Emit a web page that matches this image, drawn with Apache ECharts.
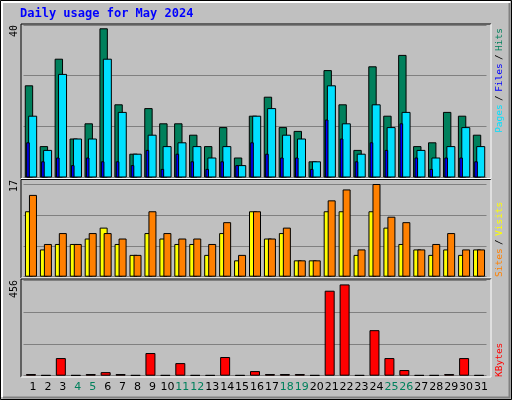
<!DOCTYPE html>
<html>
<head>
<meta charset="utf-8">
<script src="https://cdn.jsdelivr.net/npm/echarts@6/dist/echarts.min.js"></script>
<style>
  html, body { margin: 0; padding: 0; background: #c0c0c0; }
  #chart { width: 512px; height: 400px; }
</style>
</head>
<body>
<div id="chart"></div>
<script>
// 数据
const days = ['1','2','3','4','5','6','7','8','9','10','11','12','13','14','15','16',
              '17','18','19','20','21','22','23','24','25','26','27','28','29','30','31'];
const weekend = ['4','5','11','12','18','19','25','26'];
const hits   = [24, 8, 31, 10, 14, 39, 19, 6, 18, 14, 14, 11, 8, 13, 5, 16, 21, 13, 12, 4, 28, 19, 7, 29, 16, 32, 8, 9, 17, 16, 11];
const files  = [16, 7, 27, 10, 10, 31, 17, 6, 11, 8, 9, 8, 5, 8, 3, 16, 18, 11, 10, 4, 24, 14, 6, 19, 13, 17, 7, 5, 8, 13, 8];
const pages  = [9, 4, 5, 3, 5, 4, 4, 3, 7, 2, 6, 4, 2, 4, 3, 9, 6, 5, 5, 2, 15, 10, 4, 9, 7, 14, 5, 2, 5, 5, 4];
const sites  = [12, 5, 6, 6, 7, 9, 6, 4, 8, 7, 6, 6, 4, 8, 3, 12, 7, 8, 3, 3, 12, 12, 4, 12, 9, 6, 5, 4, 5, 4, 5];
const visits = [15, 6, 8, 6, 8, 8, 7, 4, 12, 8, 7, 7, 6, 10, 4, 12, 7, 9, 3, 3, 14, 16, 5, 17, 11, 10, 5, 6, 8, 5, 5];
const kbytes = [8, 3, 84, 3, 8, 17, 8, 3, 108, 3, 60, 3, 3, 89, 3, 22, 8, 8, 8, 3, 405, 435, 3, 217, 84, 27, 3, 3, 8, 84, 3];

const GRID_L = 23.5, GRID_R = 25.5;
const FRAME_L = 21, FRAME_R = 491;
const panels = [
    { top: 25, bottom: 177, frameTop: 24 },
    { top: 184, bottom: 276.7, frameTop: 179.5 },
    { top: 280, bottom: 375.7, frameTop: 279 }
];
const sansFont = 'DejaVu Sans';

function makeGrid(p) {
    return { left: GRID_L, right: GRID_R, top: p.top, height: p.bottom - p.top };
}

function makeXAxis(i, showLabel) {
    return {
        type: 'category', gridIndex: i, data: days,
        axisLine: { show: false }, axisTick: { show: false }, splitLine: { show: false },
        axisLabel: {
            show: showLabel, interval: 0, margin: 6, padding: [0, 0, 0, 4],
            fontFamily: sansFont, fontSize: 11, color: '#000',
            formatter: v => weekend.includes(v) ? '{we|' + v + '}' : v,
            rich: { we: { color: '#00805c', fontFamily: sansFont, fontSize: 11 } }
        }
    };
}

function makeYAxis(i, max) {
    return {
        type: 'value', gridIndex: i, min: 0, max: max, interval: max / 3,
        axisLine: { show: false }, axisTick: { show: false }, axisLabel: { show: false },
        splitLine: { lineStyle: { color: '#808080', width: 1 } }
    };
}

// 顶部面板：Hits / Files / Pages 三层重叠
function renderTop(params, api) {
    const idx = api.value(0);
    const base = api.coord([idx, 0]);
    const rect = (off0, off1, val, color) => {
        const top = api.coord([idx, val]);
        return {
            type: 'rect',
            shape: { x: base[0] + off0, y: top[1], width: off1 - off0, height: base[1] - top[1] },
            style: { fill: color, stroke: '#000', lineWidth: 1 }
        };
    };
    return {
        type: 'group',
        children: [
            rect(-5.7, 1.7, api.value(1), '#00805c'),
            rect(-2.3, 5.7, api.value(2), '#00e0ff'),
            rect(-4.3, -1.7, api.value(3), '#0000ff')
        ]
    };
}

const topData = days.map((d, i) => [i, hits[i], files[i], pages[i]]);

// 面板边框和文字
const graphics = [
    { type: 'rect', shape: { x: 0.5, y: 0.5, width: 511, height: 399 }, style: { fill: 'none', stroke: '#000', lineWidth: 1 }, z: 100 },
    { type: 'polyline', shape: { points: [[2, 397], [2, 2], [510, 2]] }, style: { stroke: '#fff', lineWidth: 2, fill: 'none' }, z: 100 },
    { type: 'polyline', shape: { points: [[3, 397.5], [509.5, 397.5], [509.5, 3]] }, style: { stroke: '#808080', lineWidth: 2, fill: 'none' }, z: 100 },
    {
        type: 'text', left: 20, top: 8,
        style: { text: 'Daily usage for May 2024', font: 'bold 12px "DejaVu Sans Mono"', fill: '#0000ff' }
    }
];
panels.forEach((p, i) => {
    const b = i === 2 ? 377 : panels[i + 1].frameTop - 1;
    graphics.push({
        type: 'polyline', z: 50,
        shape: { points: [[FRAME_L, b], [FRAME_L, p.frameTop], [FRAME_R, p.frameTop]] },
        style: { stroke: '#000', lineWidth: 1, fill: 'none' }
    });
    graphics.push({
        type: 'polyline', z: 50,
        shape: { points: [[FRAME_R, p.frameTop], [FRAME_R, b], [FRAME_L, b]] },
        style: { stroke: '#fff', lineWidth: 1, fill: 'none' }
    });
});
const leftLabels = [['40', 25], ['17', 180], ['456', 280]];
leftLabels.forEach(([t, y]) => {
    graphics.push({
        type: 'text', x: 14, y: y, rotation: Math.PI / 2,
        style: { text: t, font: '10px "DejaVu Sans Mono"', fill: '#000', align: 'right', verticalAlign: 'middle' }
    });
});
const rf = '9.5px "DejaVu Sans Mono"';
graphics.push({
    type: 'text', x: 500, y: 28, rotation: Math.PI / 2,
    style: {
        text: '{p|Pages} {s|/} {f|Files} {s|/} {h|Hits}', align: 'right', verticalAlign: 'middle',
        rich: {
            p: { fill: '#00e0ff', font: rf },
            f: { fill: '#0000ff', font: rf },
            h: { fill: '#00805c', font: rf },
            s: { fill: '#000', font: rf }
        }
    }
});
graphics.push({
    type: 'text', x: 500, y: 277, rotation: Math.PI / 2,
    style: {
        text: '{a|Sites} {s|/} {b|Visits}', align: 'left', verticalAlign: 'middle',
        rich: {
            a: { fill: '#ff8000', font: rf },
            b: { fill: '#ffff00', font: rf },
            s: { fill: '#000', font: rf }
        }
    }
});
graphics.push({
    type: 'text', x: 500, y: 377, rotation: Math.PI / 2,
    style: { text: 'KBytes', font: rf, fill: '#ff0000', align: 'left', verticalAlign: 'middle' }
});

const barBorder = { borderColor: '#000', borderWidth: 1 };

const option = {
    backgroundColor: '#c0c0c0',
    animation: false,
    grid: panels.map(makeGrid),
    xAxis: [makeXAxis(0, false), makeXAxis(1, false), makeXAxis(2, true)],
    yAxis: [makeYAxis(0, 40), makeYAxis(1, 17), makeYAxis(2, 456)],
    graphic: graphics,
    series: [
        {
            type: 'custom', xAxisIndex: 0, yAxisIndex: 0,
            renderItem: renderTop, data: topData,
            encode: { x: 0, y: [1, 2, 3] }
        },
        {
            name: 'Sites', type: 'bar', xAxisIndex: 1, yAxisIndex: 1, data: sites,
            barWidth: 8, barGap: '-50%', itemStyle: Object.assign({ color: '#ffff00' }, barBorder)
        },
        {
            name: 'Visits', type: 'bar', xAxisIndex: 1, yAxisIndex: 1, data: visits,
            barWidth: 8, itemStyle: Object.assign({ color: '#ff8000' }, barBorder)
        },
        {
            name: 'KBytes', type: 'bar', xAxisIndex: 2, yAxisIndex: 2, data: kbytes,
            barWidth: 10, itemStyle: Object.assign({ color: '#ff0000' }, barBorder)
        }
    ]
};

const myChart = echarts.init(document.getElementById('chart'));
myChart.setOption(option);
</script>
</body>
</html>
